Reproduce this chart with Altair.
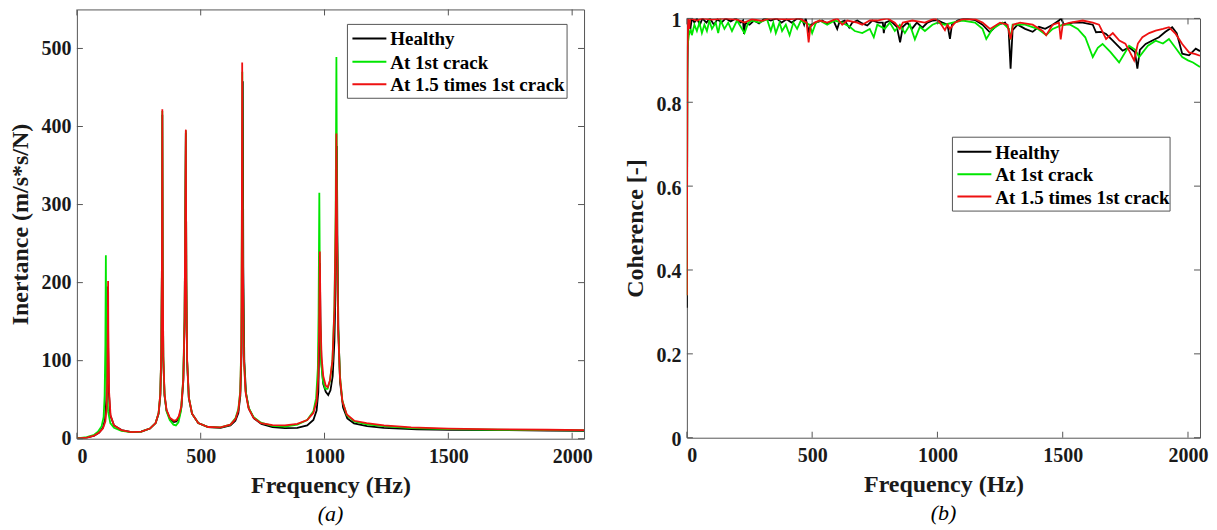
import altair as alt
import pandas as pd

SERIES = ["Healthy", "At 1st crack", "At 1.5 times 1st crack"]
COLORS = ["#000000", "#00e600", "#ee1111"]

X_TICKS = [0, 500, 1000, 1500, 2000]
Y_TICKS_A = [0, 100, 200, 300, 400, 500]
Y_TICKS_B = [0, 0.2, 0.4, 0.6, 0.8, 1]

# ---- (a) Inertance (frequency Hz, value m/s*s/N) ----
inert_healthy = [(0,0.5),(40,1.5),(70,4),(90,8),(105,14),(114,25),(119,50),(122,110),(124,195),(126,120),(129,60),(135,30),(150,17),(180,11),(220,8.5),(260,9),(295,13),(318,20),(330,32),(337,55),(341,110),(343.5,220),(345,415),(346.5,220),(349,100),(354,55),(362,36),(375,26),(392,21.5),(402,22),(412,27),(422,40),(430,75),(435,150),(438,300),(440,392),(442,200),(445,100),(452,52),(465,32),(490,20),(530,15),(580,14),(620,17),(640,23),(652,33),(660,55),(665,110),(668,250),(670,458),(672,220),(676,100),(683,58),(695,38),(715,26),(745,19),(790,15),(840,13.5),(890,14),(930,17),(955,24),(968,36),(975,60),(978,110),(981,225),(984,140),(988,95),(995,70),(1005,60),(1015,56),(1024,62),(1033,80),(1040,125),(1045,200),(1048,330),(1050,375),(1052,260),(1056,140),(1063,72),(1075,40),(1092,26),(1119,19.7),(1172,16),(1239,13.8),(1374,12),(1508,11.4),(1710,11),(1900,10.5),(2048,10.2)]

inert_crack1 = [(0,0.5),(40,2),(70,5),(85,9),(100,16),(108,28),(112,55),(115,120),(117,235),(118.5,130),(121,65),(126,35),(135,20),(150,14),(180,10),(220,8.5),(260,9),(295,13),(318,20),(330,33),(337,58),(341,115),(343.5,230),(345,420),(346.5,230),(349,105),(354,56),(362,35),(375,24),(390,18),(400,17),(410,21),(420,35),(429,75),(435,155),(438,300),(440,395),(442,205),(445,102),(452,53),(465,32),(490,20),(530,15),(580,14.5),(620,18),(640,26),(652,38),(660,62),(664,125),(666,270),(668,470),(670,245),(674,108),(681,62),(693,40),(713,28),(743,20.5),(790,16.5),(840,15.5),(890,18),(930,24),(955,35),(966,52),(973,90),(976,160),(979,315),(982,160),(986,100),(993,75),(1003,64),(1012,64),(1022,74),(1032,100),(1040,170),(1045,290),(1048,489),(1051,260),(1055,145),(1062,82),(1072,49),(1090,30),(1120,22),(1170,18.5),(1240,16),(1350,13.5),(1500,12.3),(1700,11.5),(1900,11),(2048,10.8)]

inert_crack15 = [(0,0.5),(40,1.5),(70,4),(90,8),(105,13),(115,22),(120,40),(123,80),(125,150),(126,202),(127,140),(130,60),(136,30),(150,17),(180,11),(220,8.5),(260,9),(295,13),(318,20),(330,33),(337,58),(341,115),(343.5,230),(345,422),(346.5,230),(349,105),(354,57),(362,37),(375,27),(392,23),(402,24),(412,29),(422,42),(430,78),(435,155),(438,300),(440,396),(442,205),(445,102),(452,53),(465,32),(490,20),(530,15),(580,14.5),(620,18),(640,25),(652,36),(660,60),(664,120),(666,260),(667.5,482),(670,240),(674,105),(681,60),(693,39),(713,27),(743,20),(790,17.5),(840,17),(890,19),(930,24),(955,33),(968,48),(975,80),(978,140),(981,240),(984,150),(988,105),(995,80),(1005,68),(1013,66),(1022,75),(1032,100),(1040,165),(1045,270),(1048,391),(1051,250),(1055,140),(1062,80),(1072,48),(1090,31),(1120,23),(1170,20),(1240,17),(1350,14.5),(1500,13),(1700,12),(1900,11.5),(2048,11)]

# ---- (b) Coherence ----
coh_healthy = [(0,0.31),(2,0.85),(4,0.97),(8,0.995),(14,0.975),(20,1.0),(30,0.99),(40,1.0),(52,0.985),(62,1.0),(78,0.99),(92,1.0),(108,0.985),(122,0.998),(138,0.99),(155,1.0),(175,0.993),(195,1.0),(215,0.99),(224,0.995),(228,0.963),(233,0.99),(250,0.985),(268,0.995),(288,0.988),(310,1.0),(335,0.995),(358,1.0),(378,0.99),(398,0.998),(418,0.99),(440,1.0),(460,0.998),(468,0.985),(474,1.0),(486,0.97),(495,0.985),(515,0.99),(540,0.995),(560,0.988),(585,0.995),(600,0.975),(608,0.99),(630,0.995),(648,0.978),(660,0.99),(680,0.995),(700,0.988),(720,0.983),(740,0.995),(765,0.99),(782,0.99),(786,0.965),(792,0.99),(812,0.995),(838,0.98),(851,0.943),(862,0.98),(880,0.99),(898,0.975),(918,0.99),(940,0.978),(960,0.99),(982,0.995),(1000,0.996),(1020,0.99),(1040,0.985),(1050,0.951),(1058,0.985),(1080,0.995),(1110,1.0),(1150,0.996),(1180,0.985),(1209,0.967),(1240,0.985),(1270,0.99),(1284,0.975),(1292,0.88),(1300,0.972),(1320,0.985),(1350,0.975),(1380,0.968),(1405,0.98),(1430,0.975),(1460,0.985),(1485,0.995),(1493,1.0),(1505,0.985),(1540,0.99),(1580,0.99),(1620,0.985),(1633,0.967),(1655,0.968),(1673,0.963),(1700,0.947),(1739,0.923),(1765,0.931),(1788,0.92),(1798,0.88),(1808,0.925),(1831,0.939),(1860,0.948),(1884,0.955),(1910,0.968),(1937,0.979),(1955,0.965),(1977,0.916),(2004,0.912),(2031,0.928),(2048,0.922)]

coh_crack1 = [(0,0.34),(2,0.93),(8,0.96),(15,0.975),(20,0.96),(30,0.985),(40,0.97),(50,0.99),(60,0.965),(70,0.985),(80,0.97),(90,0.995),(100,0.975),(115,0.99),(125,0.965),(135,0.995),(150,0.975),(165,0.99),(180,0.97),(200,0.995),(215,0.98),(230,0.965),(245,0.99),(260,0.995),(290,0.99),(320,0.998),(335,0.97),(345,0.99),(355,0.965),(370,0.99),(380,0.97),(395,0.985),(410,0.96),(425,0.99),(440,0.975),(455,0.995),(470,0.99),(490,0.985),(500,0.965),(515,0.99),(530,0.995),(560,0.985),(590,0.995),(620,0.99),(650,0.98),(670,0.97),(700,0.965),(730,0.975),(746,0.955),(760,0.985),(790,0.975),(810,0.99),(830,0.97),(850,0.985),(870,0.965),(890,0.985),(910,0.95),(930,0.98),(950,0.97),(980,0.985),(1000,0.99),(1030,0.985),(1060,0.99),(1100,0.995),(1150,0.99),(1180,0.975),(1195,0.951),(1220,0.975),(1260,0.99),(1285,0.975),(1292,0.95),(1300,0.985),(1350,0.985),(1400,0.975),(1434,0.96),(1460,0.975),(1500,0.985),(1530,0.985),(1560,0.975),(1590,0.955),(1620,0.908),(1640,0.93),(1659,0.939),(1690,0.92),(1725,0.895),(1765,0.935),(1790,0.925),(1805,0.908),(1840,0.935),(1871,0.947),(1900,0.94),(1924,0.951),(1950,0.93),(1977,0.908),(2000,0.9),(2020,0.895),(2048,0.884)]

coh_crack15 = [(0,0.34),(2,0.9),(5,1.0),(9,0.975),(14,1.0),(40,0.995),(60,1.0),(100,0.997),(150,1.0),(200,0.997),(230,0.99),(260,0.998),(300,0.994),(330,1.0),(400,0.998),(450,1.0),(478,0.99),(486,0.943),(493,0.98),(510,0.99),(530,0.995),(560,0.99),(580,0.995),(600,1.0),(620,0.985),(640,0.995),(680,0.99),(700,0.985),(730,0.995),(760,0.995),(800,1.0),(830,0.99),(850,0.975),(862,0.99),(900,0.995),(950,0.99),(990,1.0),(1010,0.99),(1030,0.972),(1040,0.985),(1050,0.975),(1070,0.99),(1100,0.998),(1150,0.998),(1180,0.99),(1210,0.975),(1250,0.99),(1280,0.985),(1292,0.95),(1302,0.985),(1330,0.99),(1380,0.985),(1420,0.97),(1434,0.96),(1460,0.985),(1485,0.99),(1492,0.95),(1500,0.985),(1530,0.99),(1580,0.995),(1620,0.99),(1645,0.985),(1673,0.951),(1700,0.965),(1726,0.947),(1750,0.94),(1765,0.923),(1785,0.9),(1800,0.94),(1818,0.955),(1845,0.965),(1871,0.971),(1900,0.975),(1924,0.979),(1951,0.963),(1977,0.939),(2004,0.919),(2030,0.915),(2048,0.911)]

FONT = "Liberation Serif"
XMAX = 2048
FRAME = "#555555"


def to_df(pairs, name):
    return pd.DataFrame({"f": [p[0] for p in pairs], "v": [p[1] for p in pairs], "series": name})


color_scale = alt.Scale(domain=SERIES, range=COLORS)


def panel(series_pairs, ymax, yticks, yfmt, ylab_off, ytitle, W, H, box, sym_x, text_x, row_y, sub):
    xs = alt.Scale(domain=[0, XMAX], nice=False, zero=False)
    ys = alt.Scale(domain=[0, ymax], nice=False, zero=False)
    xaxis = alt.Axis(values=X_TICKS, format="d", title="Frequency (Hz)", labelPadding=8, titlePadding=7)
    yaxis = alt.Axis(values=yticks, format=yfmt, title=ytitle, labelPadding=6, titlePadding=8,
                     labelOffset=ylab_off)
    layers = []
    for pairs, name in zip(series_pairs, SERIES):
        layers.append(alt.Chart(to_df(pairs, name)).mark_line(strokeWidth=1.8, clip=True).encode(
            x=alt.X("f:Q", scale=xs, axis=xaxis),
            y=alt.Y("v:Q", scale=ys, axis=yaxis),
            color=alt.Color("series:N", scale=color_scale, legend=None),
        ))
    # inward tick marks on all four sides (MATLAB box style)
    xt = pd.DataFrame({"f": X_TICKS})
    yt = pd.DataFrame({"v": yticks})
    tick_style = dict(color=FRAME, strokeWidth=1)
    layers.append(alt.Chart(xt).mark_rule(**tick_style).encode(
        x=alt.X("f:Q", scale=xs, axis=xaxis), y=alt.value(H), y2=alt.value(H - 6)))
    layers.append(alt.Chart(xt).mark_rule(**tick_style).encode(
        x=alt.X("f:Q", scale=xs, axis=xaxis), y=alt.value(0), y2=alt.value(6)))
    layers.append(alt.Chart(yt).mark_rule(**tick_style).encode(
        y=alt.Y("v:Q", scale=ys, axis=yaxis), x=alt.value(0), x2=alt.value(6)))
    layers.append(alt.Chart(yt).mark_rule(**tick_style).encode(
        y=alt.Y("v:Q", scale=ys, axis=yaxis), x=alt.value(W - 6), x2=alt.value(W)))
    # legend box
    bx0, by0, bx1, by1 = box
    layers.append(alt.Chart(pd.DataFrame({"series": [SERIES[0]]})).mark_rect(
        fill="white", stroke=FRAME, strokeWidth=1).encode(
        x=alt.value(bx0), x2=alt.value(bx1), y=alt.value(by0), y2=alt.value(by1)))
    for i, (name, col) in enumerate(zip(SERIES, COLORS)):
        d = pd.DataFrame({"series": [name]})
        yc = row_y[i]
        layers.append(alt.Chart(d).mark_rule(color=col, strokeWidth=2).encode(
            x=alt.value(sym_x[0]), x2=alt.value(sym_x[1]), y=alt.value(yc)))
        layers.append(alt.Chart(d).mark_text(
            align="left", baseline="middle", font=FONT, fontSize=19, fontWeight="bold",
            color="black").encode(x=alt.value(text_x), y=alt.value(yc + 1), text="series:N"))
    return alt.layer(*layers).properties(
        width=W, height=H,
        title=alt.TitleParams(text=sub, orient="bottom", anchor="middle", font=FONT, fontSize=22,
                              fontStyle="italic", fontWeight="normal", color="black", offset=6),
    )


left = panel([inert_healthy, inert_crack1, inert_crack15], 550, Y_TICKS_A, "d", 0,
             "Inertance (m/s*s/N)", 508, 430,
             (271, 15, 491, 89), (276, 310), 314, (29, 52.5, 75), "(a)")
right = panel([coh_healthy, coh_crack1, coh_crack15], 1, Y_TICKS_B, "~g", 2,
              "Coherence [-]", 514, 420,
              (266, 119, 484, 193), (271, 305), 309, (133.5, 156, 178.5), "(b)")

# invisible strip that lowers panel (b) slightly, as in the original figure
spacer = alt.Chart(pd.DataFrame({"series": [SERIES[0]]})).mark_point(opacity=0, size=1).encode(
    x=alt.value(1), y=alt.value(1)
).properties(width=514, height=2, view=alt.ViewBackground(strokeOpacity=0))

right_col = alt.vconcat(spacer, right, spacing=-2)

chart = alt.hconcat(left, right_col, spacing=30).properties(
    padding=0, background="white"
).configure_view(stroke=FRAME, strokeWidth=1).configure_axis(
    labelFont=FONT, labelFontWeight="bold", labelFontSize=20, labelColor="#1a1a1a",
    titleFont=FONT, titleFontWeight="bold", titleFontSize=24, titleColor="#1a1a1a",
    grid=False, ticks=False, domain=False,
)

chart.save("out.html", embed_options={"renderer": "svg", "actions": False})
